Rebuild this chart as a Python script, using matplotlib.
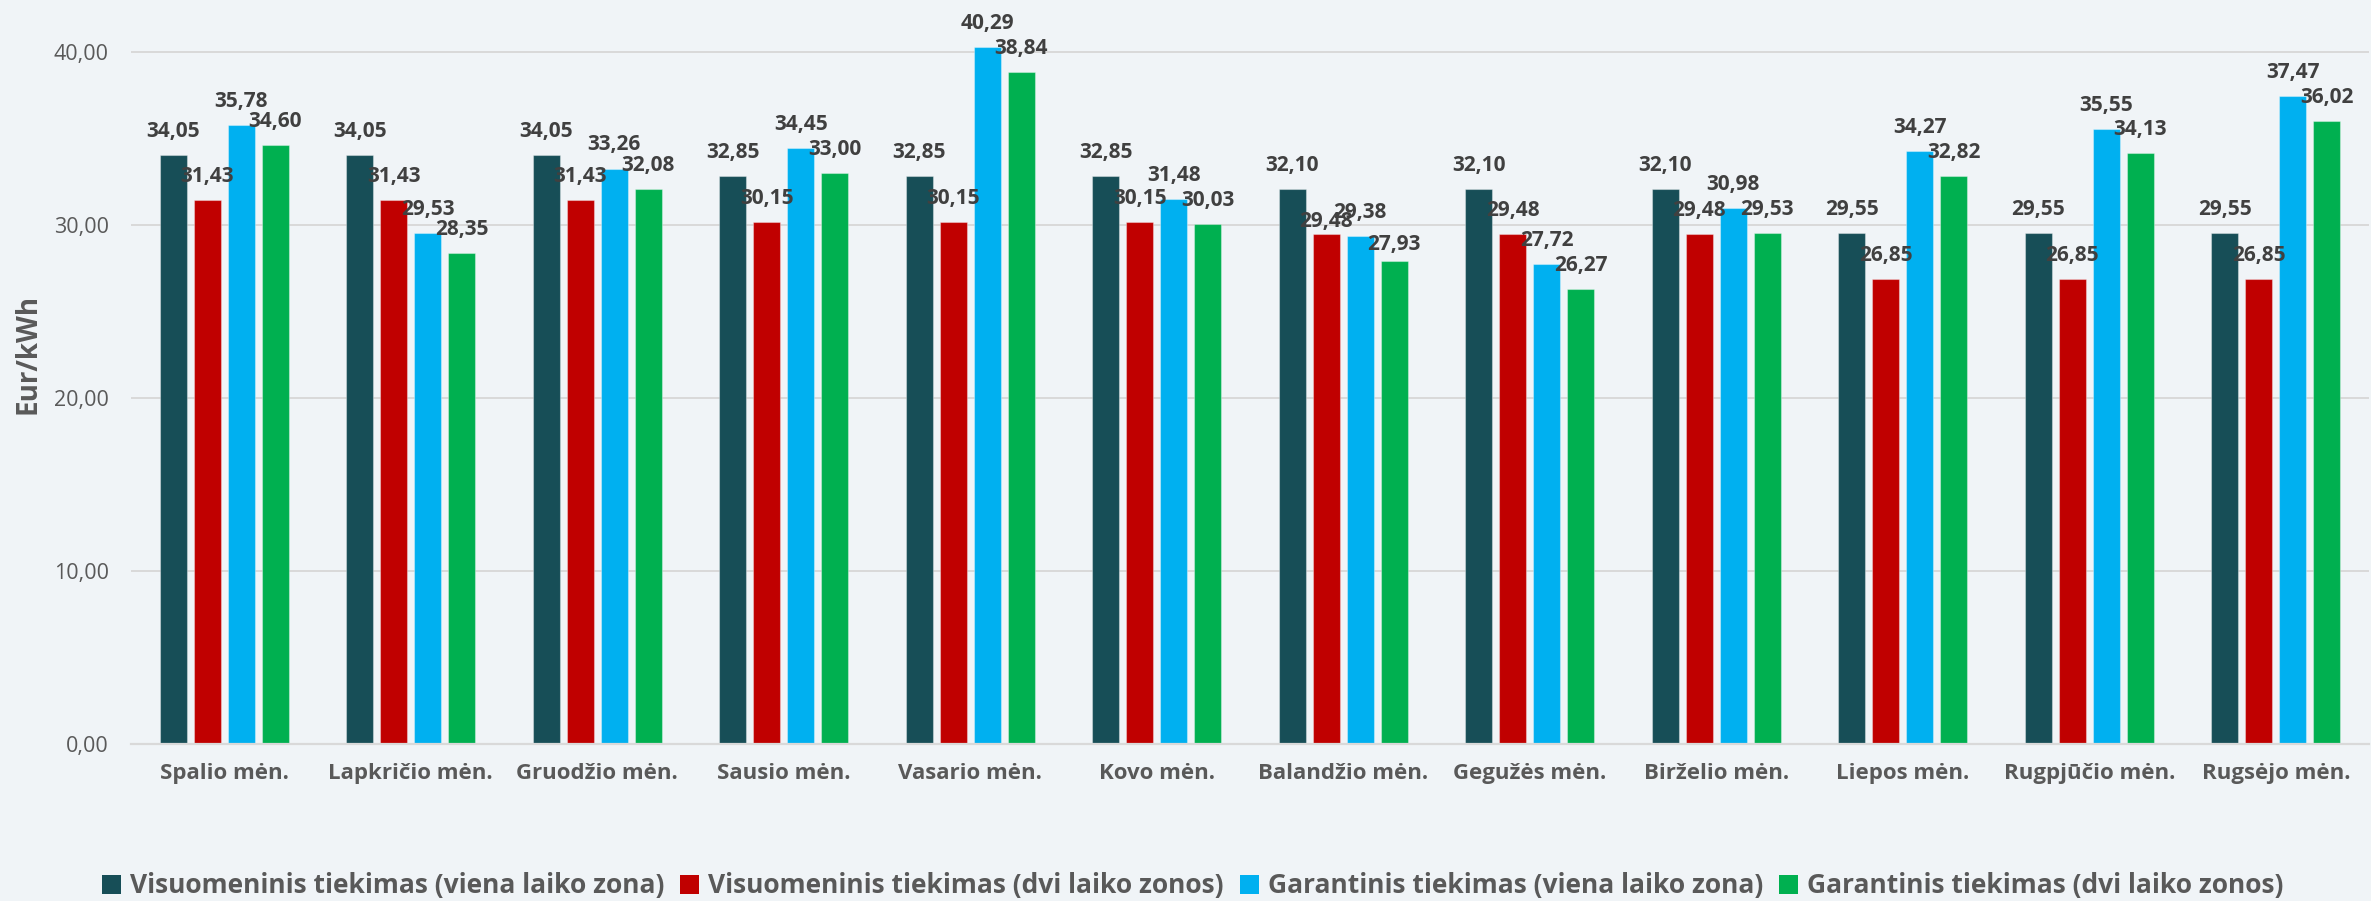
import matplotlib
matplotlib.use("Agg")
import matplotlib.pyplot as plt
import numpy as np
from matplotlib.patches import Patch

categories = ["Spalio mėn.", "Lapkričio mėn.", "Gruodžio mėn.", "Sausio mėn.",
              "Vasario mėn.", "Kovo mėn.", "Balandžio mėn.", "Gegužės mėn.",
              "Birželio mėn.", "Liepos mėn.", "Rugpjūčio mėn.", "Rugsėjo mėn."]
series_names = ["Visuomeninis tiekimas (viena laiko zona)",
                "Visuomeninis tiekimas (dvi laiko zonos)",
                "Garantinis tiekimas (viena laiko zona)",
                "Garantinis tiekimas (dvi laiko zonos)"]
vis_viena = [34.05, 34.05, 34.05, 32.85, 32.85, 32.85, 32.10, 32.10, 32.10, 29.55, 29.55, 29.55]
vis_dvi = [31.43, 31.43, 31.43, 30.15, 30.15, 30.15, 29.48, 29.48, 29.48, 26.85, 26.85, 26.85]
gar_viena = [35.78, 29.53, 33.26, 34.45, 40.29, 31.48, 29.38, 27.72, 30.98, 34.27, 35.55, 37.47]
gar_dvi = [34.60, 28.35, 32.08, 33.00, 38.84, 30.03, 27.93, 26.27, 29.53, 32.82, 34.13, 36.02]
y_ticks = [0, 10, 20, 30, 40]

colors = ["#174E57", "#C00000", "#00B0F0", "#00B050"]
bg = "#F0F4F7"
txt = "#595959"
lbl = "#404040"
font = ["Open Sans", "DejaVu Sans"]
plt.rcParams["font.family"] = font

# label offset overrides (points) where the original nudged labels to avoid collisions
label_offsets = {(1, 6): 5, (3, 6): 8}

W, H = 2371, 901
fig = plt.figure(figsize=(W / 100, H / 100), dpi=100, facecolor=bg)
ax = fig.add_axes([131 / W, (H - 744) / H, (2369 - 131) / W, 744 / H])
ax.set_facecolor(bg)

x = np.arange(len(categories))
step = 0.182
width = 0.145
all_series = [vis_viena, vis_dvi, gar_viena, gar_dvi]
for i, (vals, c) in enumerate(zip(all_series, colors)):
    off = (i - 1.5) * step
    ax.bar(x + off, vals, width, color=c, zorder=3,
           edgecolor=(1, 1, 1, 0.35), linewidth=0.8)
    for j, (xi, v) in enumerate(zip(x + off, vals)):
        dy = label_offsets.get((i, j), 13)
        ax.annotate(f"{v:.2f}".replace(".", ","), (xi, v), xytext=(0, dy),
                    textcoords="offset points", ha="center", va="baseline",
                    fontsize=15, fontweight="bold", color=lbl, zorder=5,
                    annotation_clip=False)

ax.set_xlim(-0.5, len(categories) - 0.5)
ax.set_ylim(0, 43.0)
ax.set_yticks(y_ticks)
ax.set_yticklabels([f"{t:.2f}".replace(".", ",") for t in y_ticks],
                   fontsize=15.5, color=txt)
ax.set_xticks(x)
ax.set_xticklabels(categories, fontsize=16, fontweight="bold", color=txt)
ax.tick_params(axis="y", length=0, pad=16)
ax.tick_params(axis="x", length=0, pad=14)
for s in ["top", "right", "left"]:
    ax.spines[s].set_visible(False)
ax.spines["bottom"].set_color("#D9D9D9")
ax.spines["bottom"].set_linewidth(1.6)
ax.spines["bottom"].set_zorder(4)
for t in y_ticks[1:]:
    ax.axhline(t, color="#D9D9D9", linewidth=1.4, zorder=1)

fig.text(28 / W, 1 - 354 / H, "Eur/kWh", rotation=90, ha="center", va="center",
         fontsize=20, fontweight="bold", color=txt)

handles = [Patch(facecolor=c, edgecolor="none") for c in colors]
leg = fig.legend(handles, series_names, loc="center", bbox_to_anchor=(0.503, 15 / H),
                 ncol=4, frameon=False, prop={"size": 19, "weight": "bold"},
                 handlelength=0.72, handleheight=0.72, handletextpad=0.35,
                 columnspacing=0.6, borderaxespad=0)
for t in leg.get_texts():
    t.set_color(txt)

fig.savefig("out.png", dpi=100, facecolor=bg)
